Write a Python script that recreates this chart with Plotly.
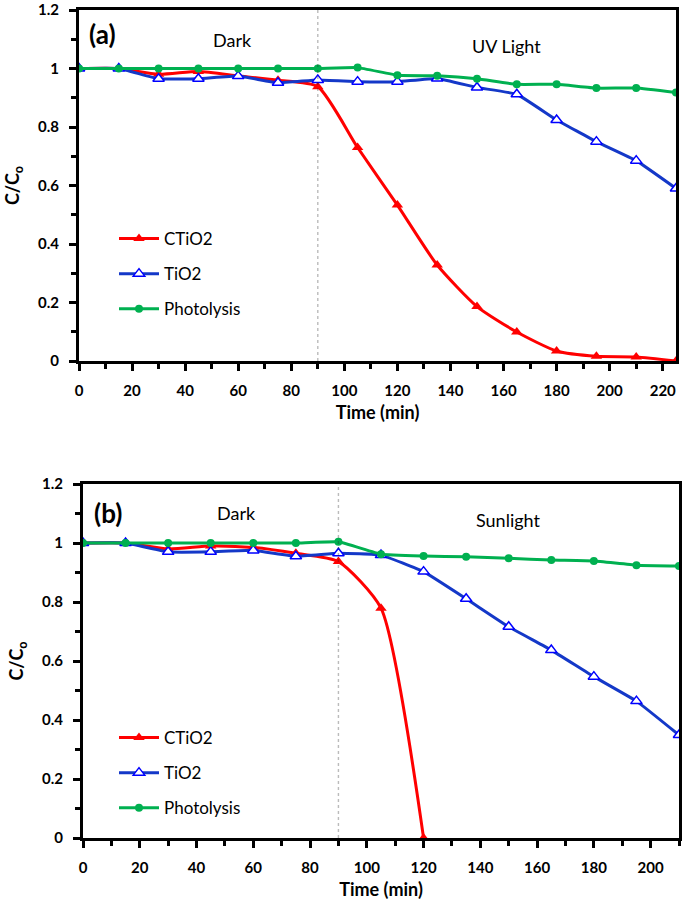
import plotly.graph_objects as go
from plotly.subplots import make_subplots

# panel (a) - UV light
time_a = [0, 15, 30, 45, 60, 75, 90, 105, 120, 135, 150, 165, 180, 195, 210, 225]
ctio2_a = [1.0, 1.0, 0.98, 0.99, 0.975, 0.96, 0.938, 0.73, 0.533, 0.328, 0.186, 0.099, 0.034, 0.016, 0.014, 0.0]
tio2_a = [1.0, 1.0, 0.965, 0.965, 0.974, 0.951, 0.961, 0.955, 0.955, 0.966, 0.935, 0.912, 0.824, 0.75, 0.685, 0.59]
photo_a = [1.0, 1.0, 1.0, 1.0, 1.0, 1.0, 1.0, 1.003, 0.977, 0.975, 0.965, 0.946, 0.946, 0.933, 0.933, 0.918]

# panel (b) - sunlight
time_b = [0, 15, 30, 45, 60, 75, 90, 105, 120, 135, 150, 165, 180, 195, 210]
time_b_ctio2 = [0, 15, 30, 45, 60, 75, 90, 105, 120]
ctio2_b = [1.0, 1.0, 0.98, 0.99, 0.985, 0.965, 0.937, 0.779, 0.0]
tio2_b = [1.0, 1.0, 0.97, 0.97, 0.975, 0.955, 0.965, 0.959, 0.903, 0.811, 0.716, 0.637, 0.547, 0.464, 0.349]
photo_b = [1.0, 1.0, 1.0, 1.0, 1.0, 1.0, 1.004, 0.962, 0.956, 0.953, 0.948, 0.942, 0.939, 0.925, 0.922]

names = ["CTiO2", "TiO2", "Photolysis"]
red = "#FF0000"
blue = "#1438C8"
green = "#00B050"
font_name = "Lato, Liberation Sans, sans-serif"

# plot area: margins in px, domains from pixel positions of the reference
W, H = 685, 906
ML, MR, MT, MB = 70, 4, 4, 60
PW, PH = W - ML - MR, H - MT - MB


def xdom(x0, x1):
    return [(x0 - ML) / PW, (x1 - ML) / PW]


def ydom(top, bottom):
    return [(H - MB - bottom) / PH, (H - MB - top) / PH]


fig = make_subplots(rows=2, cols=1)


def add_panel(row, legend, t_c, c, t, ti, ph):
    fig.add_trace(go.Scatter(x=t_c, y=c, name=names[0], mode="lines+markers",
                             line=dict(color=red, width=3, shape="spline", smoothing=0.6),
                             marker=dict(symbol="triangle-up", size=10, color=red),
                             legend=legend, legendgroup=legend + "c"), row=row, col=1)
    fig.add_trace(go.Scatter(x=t, y=ti, name=names[1], mode="lines+markers",
                             line=dict(color=blue, width=3, shape="spline", smoothing=0.3),
                             marker=dict(symbol="triangle-up", size=10, color="white",
                                         line=dict(color="#0000FF", width=1.5)),
                             legend=legend, legendgroup=legend + "t"), row=row, col=1)
    fig.add_trace(go.Scatter(x=t, y=ph, name=names[2], mode="lines+markers",
                             line=dict(color=green, width=3, shape="spline", smoothing=0.3),
                             marker=dict(symbol="circle", size=8, color=green),
                             legend=legend, legendgroup=legend + "p"), row=row, col=1)


add_panel(1, "legend", time_a, ctio2_a, time_a, tio2_a, photo_a)
add_panel(2, "legend2", time_b_ctio2, ctio2_b, time_b, tio2_b, photo_b)

axis_common = dict(showline=True, linecolor="black", linewidth=3, mirror=True,
                   ticks="outside", ticklen=7, tickwidth=2.5, tickcolor="black",
                   showgrid=False, zeroline=False, automargin=False, ticklabelstandoff=7,
                   ticklabeloverflow="allow",
                   tickfont=dict(family=font_name, size=15, color="black", weight="bold"),
                   minor=dict(ticks="outside", ticklen=5, tickwidth=2.5, tickcolor="black"))

fig.update_xaxes(**axis_common, dtick=20, tick0=0)
fig.update_yaxes(**axis_common, dtick=0.2, tick0=0, range=[0, 1.2])
fig.update_xaxes(range=[0, 225], minor_dtick=10, domain=xdom(79, 676), row=1, col=1)
fig.update_xaxes(range=[0, 210], minor_dtick=10, domain=xdom(83, 679), row=2, col=1)
fig.update_yaxes(minor_dtick=0.1, domain=ydom(10, 361), row=1, col=1)
fig.update_yaxes(minor_dtick=0.1, domain=ydom(484, 838), row=2, col=1)

title_font = dict(family=font_name, size=18, color="black", weight="bold")
for r in (1, 2):
    fig.update_xaxes(title=dict(text="Time (min)", font=title_font, standoff=9), row=r, col=1)
    fig.update_yaxes(title=dict(text="C/C<sub>o</sub>", font=title_font, standoff=14), row=r, col=1)

# light-on marker
for r in (1, 2):
    fig.add_vline(x=90, line=dict(color="#222222", width=1.4, dash="3px,3px"), row=r, col=1)

label_font = dict(family=font_name, size=18, color="black")
tag_font = dict(family=font_name, size=26, color="black")
fig.add_annotation(x=3, y=1.119, xref="x", yref="y", text="<b>(a)</b>",
                   showarrow=False, xanchor="left", font=tag_font)
fig.add_annotation(x=58, y=1.098, xref="x", yref="y", text="Dark", showarrow=False, font=label_font)
fig.add_annotation(x=161, y=1.078, xref="x", yref="y", text="UV Light", showarrow=False, font=label_font)
fig.add_annotation(x=3, y=1.102, xref="x2", yref="y2", text="<b>(b)</b>",
                   showarrow=False, xanchor="left", font=tag_font)
fig.add_annotation(x=54, y=1.102, xref="x2", yref="y2", text="Dark", showarrow=False, font=label_font)
fig.add_annotation(x=150, y=1.078, xref="x2", yref="y2", text="Sunlight", showarrow=False, font=label_font)

legend_style = dict(xanchor="left", yanchor="top", bgcolor="rgba(0,0,0,0)",
                    font=dict(family=font_name, size=17, color="black"),
                    tracegroupgap=10, itemwidth=40)
fig.update_layout(
    template="simple_white",
    width=W, height=H,
    margin=dict(l=ML, r=MR, t=MT, b=MB),
    paper_bgcolor="white", plot_bgcolor="white",
    legend=dict(x=(114 - ML) / PW, y=(H - MB - 221) / PH, **legend_style),
    legend2=dict(x=(114 - ML) / PW, y=(H - MB - 720) / PH, **legend_style),
)

# page body has a default 8px margin; drop it so the figure sits at the window origin
fig.write_html("out.html", config={"displayModeBar": False},
               post_script="document.body.style.margin='0';")
